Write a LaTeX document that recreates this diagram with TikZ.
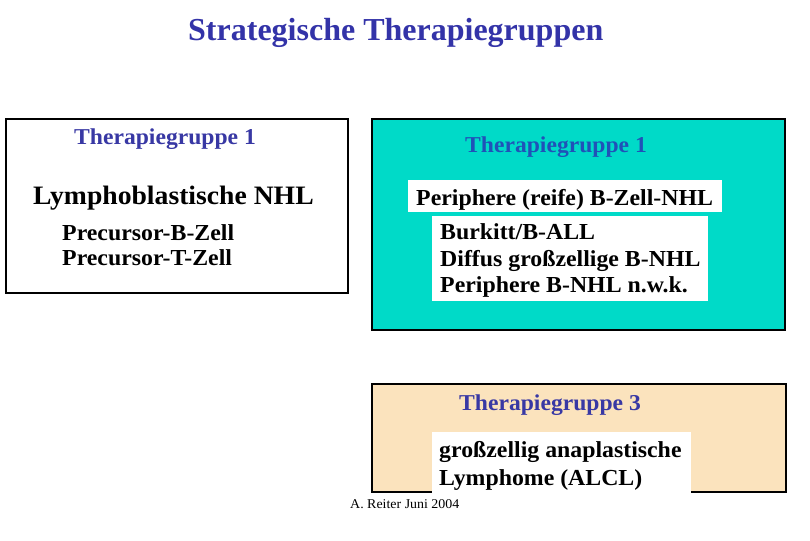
\documentclass[tikz,border=0pt]{standalone}
\usepackage{fontspec}
\setmainfont{Liberation Serif}
\newfontfamily\wideserif[FakeStretch=1.04]{Liberation Serif}
\definecolor{titleblue}{HTML}{3333A8}
\definecolor{headblue}{HTML}{3838A4}
\definecolor{midblue}{HTML}{2052B8}
\definecolor{teal}{HTML}{00DAC8}
\definecolor{wheat}{HTML}{FBE3BD}
\tikzset{
  txt/.style={inner sep=0pt, anchor=base west},
  body/.style={txt, font=\wideserif\bfseries\fontsize{22.9}{26}\selectfont},
  head/.style={txt, font=\wideserif\bfseries\fontsize{22.7}{26}\selectfont},
}

\begin{document}
\begin{tikzpicture}[x=1pt, y=-1pt]
\useasboundingbox (0,0) rectangle (810,540);
\node[txt, titleblue, font=\bfseries\fontsize{32}{38}\selectfont] (title) at (188,41) {Strategische Therapiegruppen};
% Gruppe 1 links
\draw[line width=2.5pt, fill=white] (6,119) rectangle (348,293);
\node[head, headblue] (head1) at (74,145) {Therapiegruppe 1};
\node[txt, font=\wideserif\bfseries\fontsize{26.6}{30}\selectfont] (lympho) at (33,204) {Lymphoblastische NHL};
\node[body] (precb) at (62,240) {Precursor-B-Zell};
\node[body] (prect) at (62,265) {Precursor-T-Zell};
% Gruppe 1 rechts
\draw[line width=2.5pt, fill=teal] (372,119) rectangle (785,330);
\node[head, midblue] (head2) at (465,153) {Therapiegruppe 1};
\fill[white] (408,180) rectangle (722,212);
\node[body] (peri) at (416,205) {Periphere (reife) B-Zell-NHL};
\fill[white] (432,216) rectangle (708,301);
\node[body] (burkitt) at (440,239) {Burkitt/B-ALL};
\node[body] (diffus) at (440,266) {Diffus großzellige B-NHL};
\node[body] (perib) at (440,292) {Periphere B-NHL n.w.k.};
% Gruppe 3
\draw[line width=2.5pt, fill=wheat] (372,384) rectangle (786,492);
\node[head, headblue] (head3) at (459,410) {Therapiegruppe 3};
\fill[white] (432,432) rectangle (691,494);
\node[body] (gross) at (439,457) {großzellig anaplastische};
\node[body] (alcl) at (439,485) {Lymphome (ALCL)};
\node[txt, font=\wideserif\fontsize{13.4}{15}\selectfont] (autor) at (350,508) {A. Reiter Juni 2004};
\end{tikzpicture}
\end{document}
